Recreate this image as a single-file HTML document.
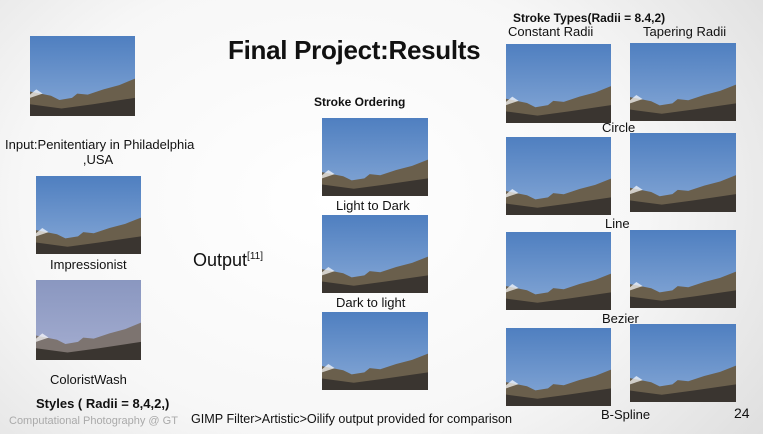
<!DOCTYPE html>
<html><head><meta charset="utf-8">
<style>
body{margin:0;width:763px;height:434px;overflow:hidden;font-family:"Liberation Sans",sans-serif;}
#slide{position:relative;width:763px;height:434px;background:radial-gradient(ellipse 560px 420px at 330px 200px,#ffffff 0%,#f7f7f7 55%,#dcdcdc 100%);}
.t{position:absolute;white-space:nowrap;color:#111;}
.img{position:absolute;overflow:hidden;}
</style></head>
<body>
<div id="slide">
<div class="t" style="left:228px;top:35px;font-size:26px;font-weight:bold;letter-spacing:-0.3px">Final Project:Results</div>
<div class="t" style="left:5px;top:137px;font-size:13px;line-height:15px;text-align:center;width:186px">Input:Penitentiary in Philadelphia<br>,USA</div>
<div class="t" style="left:50px;top:257px;font-size:13px">Impressionist</div>
<div class="t" style="left:50px;top:372px;font-size:13px">ColoristWash</div>
<div class="t" style="left:36px;top:396px;font-size:13px;font-weight:bold">Styles ( Radii = 8,4,2,)</div>
<div class="t" style="left:9px;top:415px;font-size:11px;color:#aaa">Computational Photography @ GT</div>
<div class="t" style="left:193px;top:250px;font-size:18px">Output<sup style="font-size:10px">[11]</sup></div>
<div class="t" style="left:314px;top:95px;font-size:12px;font-weight:bold">Stroke Ordering</div>
<div class="t" style="left:336px;top:198px;font-size:13px">Light to Dark</div>
<div class="t" style="left:336px;top:295px;font-size:13px">Dark to light</div>
<div class="t" style="left:191px;top:412px;font-size:12.6px">GIMP Filter&gt;Artistic&gt;Oilify output provided for comparison</div>
<div class="t" style="left:513px;top:11px;font-size:12px;font-weight:bold">Stroke Types(Radii = 8.4,2)</div>
<div class="t" style="left:508px;top:24px;font-size:13px">Constant Radii</div>
<div class="t" style="left:643px;top:24px;font-size:13px">Tapering Radii</div>
<div class="t" style="left:602px;top:120px;font-size:13px">Circle</div>
<div class="t" style="left:605px;top:216px;font-size:13px">Line</div>
<div class="t" style="left:602px;top:311px;font-size:13px">Bezier</div>
<div class="t" style="left:601px;top:407px;font-size:13px">B-Spline</div>
<div class="t" style="left:734px;top:405px;font-size:14px">24</div>
</div>
<script>
const boxes=[
 ["input-photo",30,36,105,80,0],["impressionist-photo",36,176,105,78,0],["coloristwash-photo",36,280,105,80,1],
 ["light-to-dark-photo",322,118,106,78,0],["dark-to-light-photo",322,215,106,78,0],["oilify-photo",322,312,106,78,0],
 ["circle-constant-photo",506,44,105,79,0],["circle-tapering-photo",630,43,106,78,0],
 ["line-constant-photo",506,137,105,78,0],["line-tapering-photo",630,133,106,79,0],
 ["bezier-constant-photo",506,232,105,78,0],["bezier-tapering-photo",630,230,106,78,0],
 ["bspline-constant-photo",506,328,105,78,0],["bspline-tapering-photo",630,324,106,78,0]];
const s=document.getElementById('slide');
boxes.forEach(b=>{
 const d=document.createElement('div');d.className='img';
 
 
 d.style.left=b[1]+'px';d.style.top=b[2]+'px';d.style.width=b[3]+'px';d.style.height=b[4]+'px';
 const wash=b[5];
 const sky=wash?'linear-gradient(#8a97c0,#a4add0)':'linear-gradient(#4f7fc0,#86a8d6)';
 const bld=wash?'#7d7470':'#6a5f4c';
 d.innerHTML='<svg width="100%" height="100%" viewBox="0 0 100 75" preserveAspectRatio="none" style="background:'+sky+'"><polygon points="0,52 20,56 28,60 40,58 45,54 55,55 70,50 85,46 100,40 100,75 0,75" fill="'+bld+'"/><polygon points="0,64 30,68 60,64 100,58 100,75 0,75" fill="#3a3530"/><polygon points="0,55 6,50 12,54 0,58" fill="#fff" opacity="0.7"/></svg>';
 s.appendChild(d);
});
</script>
</body></html>
